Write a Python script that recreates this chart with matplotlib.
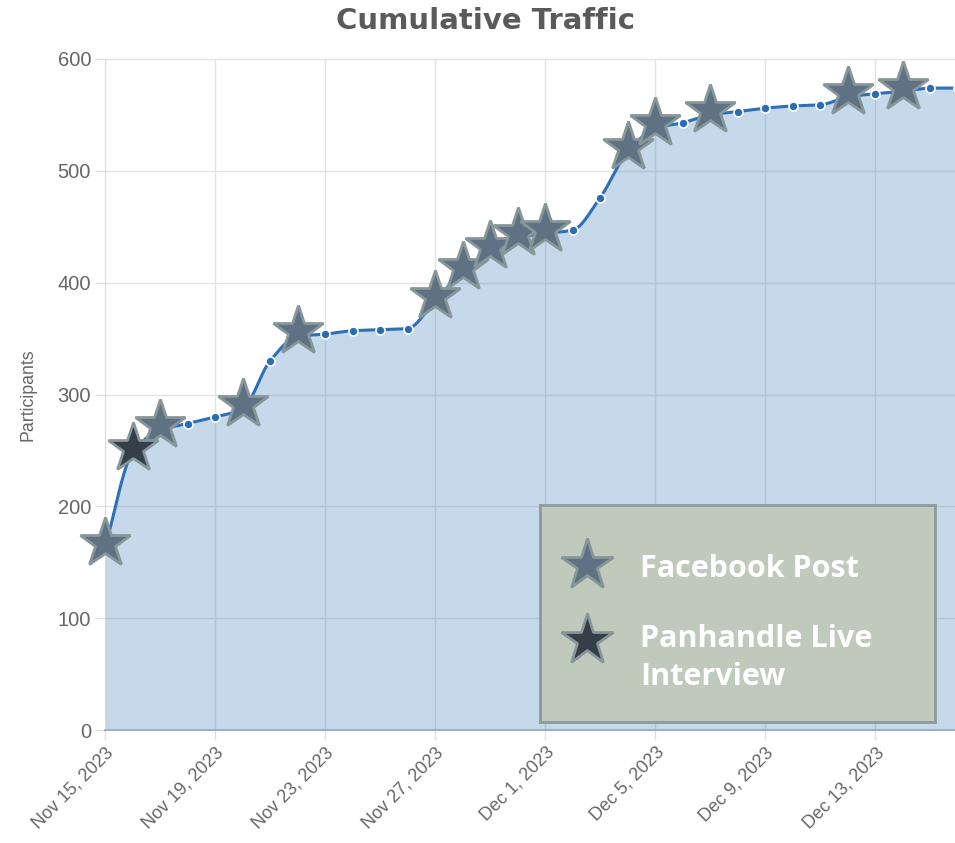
import numpy as np
import matplotlib
matplotlib.use("Agg")
import matplotlib.pyplot as plt
from matplotlib.transforms import offset_copy

# ---- data ----
days = list(range(32))  # days since Nov 15, 2023
participants = [163, 248, 268, 274, 280, 287, 330, 352, 354, 357, 358, 359,
                384, 410, 428, 440, 444, 447, 476, 517, 538, 543, 550, 553,
                556, 558, 559, 566, 569, 571, 574, 574]
facebook_days = [0, 2, 5, 7, 12, 13, 14, 15, 16, 19, 20, 22, 27, 29]
panhandle_days = [1]
tick_days = [0, 4, 8, 12, 16, 20, 24, 28]
tick_labels = ["Nov 15, 2023", "Nov 19, 2023", "Nov 23, 2023", "Nov 27, 2023",
               "Dec 1, 2023", "Dec 5, 2023", "Dec 9, 2023", "Dec 13, 2023"]
y_ticks = [0, 100, 200, 300, 400, 500, 600]
title = "Cumulative Traffic"
y_label = "Participants"
legend_labels = ["Facebook Post", "Panhandle Live\nInterview"]


def monotone_curve(x, y, n=20):
    x = np.asarray(x, float); y = np.asarray(y, float)
    h = np.diff(x); d = np.diff(y) / h
    m = np.zeros_like(y)
    m[0], m[-1] = d[0], d[-1]
    for i in range(1, len(y) - 1):
        if d[i - 1] * d[i] <= 0:
            m[i] = 0
        else:
            w1 = 2 * h[i] + h[i - 1]; w2 = h[i] + 2 * h[i - 1]
            m[i] = (w1 + w2) / (w1 / d[i - 1] + w2 / d[i])
    xs, ys = [], []
    for i in range(len(x) - 1):
        t = np.linspace(0, 1, n, endpoint=False)
        h00 = 2 * t**3 - 3 * t**2 + 1; h10 = t**3 - 2 * t**2 + t
        h01 = -2 * t**3 + 3 * t**2; h11 = t**3 - t**2
        xs.append(x[i] + t * h[i])
        ys.append(h00 * y[i] + h10 * h[i] * m[i] + h01 * y[i + 1] + h11 * h[i] * m[i + 1])
    xs.append([x[-1]]); ys.append([y[-1]])
    return np.concatenate(xs), np.concatenate(ys)


plt.rcParams['font.family'] = ['Liberation Sans', 'DejaVu Sans']

fig = plt.figure(figsize=(9.55, 8.43), dpi=100)
ax = fig.add_axes([105 / 955, 1 - 730 / 843, 1 - 105 / 955, (730 - 59) / 843])

xs, ys = monotone_curve(days, participants)
ax.fill_between(xs, 0, ys, color=(51 / 255, 119 / 255, 180 / 255, 0.28), lw=0, zorder=2)
ax.plot(xs, ys, color='#2d6fb8', lw=2.2, zorder=3, solid_capstyle='round')
ax.plot(days, participants, 'o', ms=6.5, mfc='#2a6db5', mec='white', mew=1.2, zorder=4)

fb_y = [participants[d] for d in facebook_days]
pl_y = [participants[d] for d in panhandle_days]
star_tr = offset_copy(ax.transData, fig=fig, x=0, y=3.5, units='points')
ax.plot(facebook_days, fb_y, '*', ms=38, mfc='#5e7283', mec='#879799', mew=2,
        zorder=5, clip_on=False, transform=star_tr)
ax.plot(panhandle_days, pl_y, '*', ms=38, mfc='#353f4a', mec='#879799', mew=2,
        zorder=5, clip_on=False, transform=star_tr)

ax.set_xlim(0, 30.9)
ax.set_ylim(0, 600)
ax.set_xticks(tick_days)
ax.set_xticklabels(tick_labels, rotation=45, ha='right', rotation_mode='anchor',
                   fontsize=13, color='#666666')
ax.set_yticks(y_ticks)
ax.set_yticklabels([str(v) for v in y_ticks], fontsize=14.5, color='#666666')
ax.tick_params(axis='both', length=7, color='#e0e0e0', width=1, pad=3)
ax.grid(True, color='#e3e3e3', lw=1, zorder=0)
ax.set_axisbelow(True)
for s in ['top', 'right']:
    ax.spines[s].set_visible(False)
ax.spines['left'].set_color('#dcdcdc')
ax.spines['bottom'].set_color('#9fb0c0')
ax.spines['bottom'].set_linewidth(1.5)

fig.text(28 / 955, 1 - 395 / 843, y_label, rotation=90, ha='center', va='center',
         fontsize=12.8, color='#666666')
fig.text(485 / 955, 1 - 21 / 843, title, ha='center', va='center',
         fontsize=21, fontweight='bold', color='#5a5a5a', family=['DejaVu Sans'])

# legend box
lg = fig.add_axes([540 / 955, 1 - 722 / 843, 395 / 955, 217 / 843])
lg.set_facecolor('#bfcabd')
for s in lg.spines.values():
    s.set_color('#8b9a9a'); s.set_linewidth(2)
lg.set_xticks([]); lg.set_yticks([])
lg.set_xlim(0, 395); lg.set_ylim(217, 0)
lg.plot([47], [60], '*', ms=39, mfc='#5e7283', mec='#879799', mew=2)
lg.plot([47], [135], '*', ms=39, mfc='#353f4a', mec='#879799', mew=2)
lab_font = ['Open Sans', 'DejaVu Sans']
lg.text(100, 72, legend_labels[0], fontsize=22, fontweight='bold', color='white',
        va='baseline', ha='left', family=lab_font)
for i, line in enumerate(legend_labels[1].split('\n')):
    lg.text(100, 142 + 38 * i, line, fontsize=22, fontweight='bold', color='white',
            va='baseline', ha='left', family=lab_font)

fig.savefig('out.png', dpi=100)
